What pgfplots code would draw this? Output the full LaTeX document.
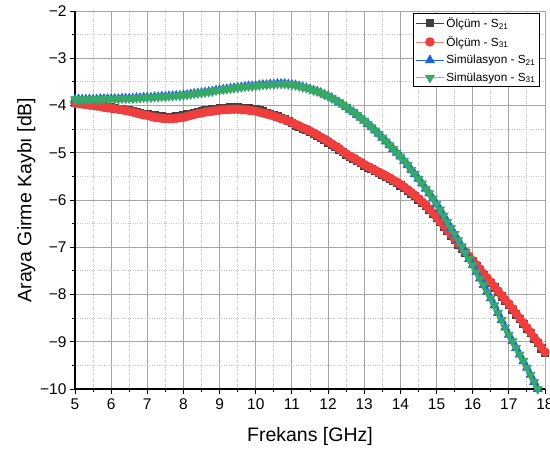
\documentclass[border=0pt]{standalone}
\usepackage{fontspec}
\setmainfont{Liberation Sans}
\usepackage{pgfplots}
\usepackage{pgfplotstable}
\pgfplotsset{compat=1.18}
\definecolor{cBlack}{RGB}{64,64,64}
\definecolor{cRed}{RGB}{238,62,62}
\definecolor{cRedL}{RGB}{245,130,130}
\definecolor{cBlue}{RGB}{30,100,230}
\definecolor{cGreen}{RGB}{56,168,104}
\definecolor{cGreenL}{RGB}{120,200,150}
\definecolor{cGrid}{RGB}{165,165,165}
\definecolor{cMinor}{RGB}{200,200,200}
\pgfplotstableread{
x s21m s31m sim
5.0 -3.94 -3.95 -3.87
5.1 -3.95 -3.96 -3.87
5.2 -3.96 -3.97 -3.87
5.3 -3.97 -3.98 -3.87
5.4 -3.98 -3.99 -3.87
5.5 -3.99 -4.00 -3.87
5.6 -4.00 -4.01 -3.87
5.7 -4.01 -4.02 -3.86
5.8 -4.02 -4.04 -3.86
5.9 -4.03 -4.05 -3.86
6.0 -4.04 -4.06 -3.86
6.1 -4.06 -4.07 -3.86
6.2 -4.07 -4.08 -3.86
6.3 -4.08 -4.09 -3.85
6.4 -4.09 -4.11 -3.85
6.5 -4.10 -4.12 -3.85
6.6 -4.11 -4.14 -3.85
6.7 -4.13 -4.16 -3.84
6.8 -4.15 -4.18 -3.84
6.9 -4.17 -4.20 -3.83
7.0 -4.18 -4.21 -3.83
7.1 -4.20 -4.23 -3.83
7.2 -4.21 -4.25 -3.82
7.3 -4.22 -4.26 -3.82
7.4 -4.23 -4.27 -3.81
7.5 -4.24 -4.28 -3.81
7.6 -4.24 -4.28 -3.80
7.7 -4.24 -4.28 -3.80
7.8 -4.23 -4.27 -3.79
7.9 -4.22 -4.26 -3.79
8.0 -4.21 -4.25 -3.78
8.1 -4.19 -4.23 -3.77
8.2 -4.17 -4.21 -3.76
8.3 -4.15 -4.19 -3.75
8.4 -4.13 -4.17 -3.74
8.5 -4.12 -4.16 -3.73
8.6 -4.10 -4.14 -3.72
8.7 -4.09 -4.13 -3.71
8.8 -4.08 -4.12 -3.70
8.9 -4.07 -4.11 -3.68
9.0 -4.06 -4.10 -3.67
9.1 -4.05 -4.09 -3.66
9.2 -4.05 -4.09 -3.65
9.3 -4.04 -4.08 -3.64
9.4 -4.04 -4.08 -3.63
9.5 -4.04 -4.08 -3.62
9.6 -4.05 -4.09 -3.61
9.7 -4.05 -4.09 -3.60
9.8 -4.06 -4.10 -3.59
9.9 -4.07 -4.11 -3.59
10.0 -4.08 -4.12 -3.58
10.1 -4.10 -4.14 -3.57
10.2 -4.12 -4.16 -3.56
10.3 -4.15 -4.18 -3.56
10.4 -4.17 -4.20 -3.55
10.5 -4.20 -4.22 -3.55
10.6 -4.23 -4.25 -3.54
10.7 -4.26 -4.28 -3.54
10.8 -4.29 -4.30 -3.54
10.9 -4.32 -4.33 -3.55
11.0 -4.36 -4.36 -3.56
11.1 -4.42 -4.40 -3.57
11.2 -4.45 -4.43 -3.59
11.3 -4.49 -4.47 -3.61
11.4 -4.52 -4.50 -3.63
11.5 -4.56 -4.54 -3.65
11.6 -4.60 -4.58 -3.68
11.7 -4.64 -4.62 -3.70
11.8 -4.69 -4.67 -3.73
11.9 -4.73 -4.71 -3.77
12.0 -4.78 -4.76 -3.80
12.1 -4.83 -4.81 -3.84
12.2 -4.88 -4.86 -3.89
12.3 -4.93 -4.91 -3.93
12.4 -4.99 -4.97 -3.98
12.5 -5.04 -5.02 -4.03
12.6 -5.09 -5.07 -4.09
12.7 -5.13 -5.11 -4.14
12.8 -5.18 -5.16 -4.20
12.9 -5.22 -5.20 -4.26
13.0 -5.27 -5.25 -4.32
13.1 -5.31 -5.29 -4.39
13.2 -5.35 -5.33 -4.46
13.3 -5.39 -5.37 -4.53
13.4 -5.43 -5.41 -4.60
13.5 -5.47 -5.45 -4.68
13.6 -5.51 -5.49 -4.76
13.7 -5.55 -5.53 -4.84
13.8 -5.60 -5.58 -4.92
13.9 -5.64 -5.62 -5.00
14.0 -5.69 -5.67 -5.08
14.1 -5.74 -5.72 -5.17
14.2 -5.80 -5.78 -5.26
14.3 -5.86 -5.84 -5.36
14.4 -5.92 -5.90 -5.45
14.5 -5.99 -5.97 -5.55
14.6 -6.06 -6.04 -5.65
14.7 -6.13 -6.11 -5.76
14.8 -6.21 -6.19 -5.86
14.9 -6.29 -6.27 -5.97
15.0 -6.38 -6.36 -6.08
15.1 -6.47 -6.45 -6.20
15.2 -6.56 -6.54 -6.33
15.3 -6.66 -6.64 -6.46
15.4 -6.75 -6.73 -6.59
15.5 -6.85 -6.83 -6.72
15.6 -6.94 -6.92 -6.85
15.7 -7.03 -7.01 -6.98
15.8 -7.12 -7.10 -7.12
15.9 -7.21 -7.19 -7.25
16.0 -7.30 -7.28 -7.38
16.1 -7.39 -7.37 -7.52
16.2 -7.48 -7.46 -7.66
16.3 -7.58 -7.56 -7.80
16.4 -7.67 -7.65 -7.94
16.5 -7.76 -7.74 -8.08
16.6 -7.85 -7.83 -8.23
16.7 -7.94 -7.92 -8.39
16.8 -8.04 -8.02 -8.54
16.9 -8.13 -8.11 -8.70
17.0 -8.22 -8.20 -8.85
17.1 -8.32 -8.30 -8.99
17.2 -8.42 -8.40 -9.13
17.3 -8.52 -8.50 -9.27
17.4 -8.62 -8.60 -9.41
17.5 -8.72 -8.70 -9.55
17.6 -8.82 -8.80 -9.70
17.7 -8.93 -8.91 -9.85
17.8 -9.03 -9.01 -10.00
17.9 -9.14 -9.12 -10.15
18.0 -9.24 -9.22 -10.30
}\datatable
\begin{document}
\begin{tikzpicture}
\begin{axis}[
  name=ax, at={(0pt,0pt)}, anchor=south west,
  scale only axis, width=470pt, height=378pt,
  xmin=5, xmax=18, ymin=-10, ymax=-2,
  axis x line*=bottom, axis y line*=left,
  axis line style={black, line width=1.1pt},
  xtick={5,6,...,18},
  ytick={-10,-9,...,-2},
  yticklabels={−10,−9,−8,−7,−6,−5,−4,−3,−2},
  minor x tick num=1, minor y tick num=1,
  tick align=outside,
  major tick length=5pt, minor tick length=3pt,
  tick style={black, line width=0.9pt},
  grid=both,
  major grid style={cGrid, line width=0.9pt},
  minor grid style={cMinor, dotted, line width=0.9pt},
  ticklabel style={font=\fontsize{15.5}{17}\selectfont},
  xticklabel style={yshift=-1pt},
  /pgf/number format/assume math mode=true,
  xlabel={Frekans [GHz]}, ylabel={Araya Girme Kaybı [dB]},
  label style={font=\fontsize{19.5}{22}\selectfont},
  xlabel style={yshift=-11pt},
  ylabel style={yshift=-2pt},
  legend style={at={(0.989,0.995)}, anchor=north east, draw=black, line width=0.9pt,
    font=\fontsize{11.8}{13}\selectfont, row sep=3.5pt, inner sep=2pt, fill=white,
    cells={anchor=west}},
  legend image code/.code={\draw[mark repeat=2,mark phase=2] plot coordinates {(0pt,0pt) (14pt,0pt) (28pt,0pt)};},
  clip=true,
]
\addplot[cBlack, line width=0.8pt, mark=square*, mark size=3.6pt, mark options={fill=cBlack, draw=cBlack, solid}] table[x=x, y=s21m] {\datatable};
\addlegendentry{Ölçüm - S\textsubscript{21}}
\addplot[cRedL, line width=0.8pt, mark=*, mark size=4.3pt, mark options={fill=cRed, draw=cRed, solid}] table[x=x, y=s31m] {\datatable};
\addlegendentry{Ölçüm - S\textsubscript{31}}
\addplot[cBlue, line width=0.8pt, mark=triangle*, mark size=5pt, mark options={fill=cBlue, draw=cBlue, solid}] table[x=x, y=sim] {\datatable};
\addlegendentry{Simülasyon - S\textsubscript{21}}
\addplot[cGreenL, line width=0.8pt, mark=triangle*, mark size=5pt, mark options={fill=cGreen, draw=cGreen, solid, rotate=180}] table[x=x, y=sim] {\datatable};
\addlegendentry{Simülasyon - S\textsubscript{31}}
\end{axis}
\pgfresetboundingbox
\path[use as bounding box] (-75pt,-65pt) rectangle (475pt,389pt);
\end{tikzpicture}
\end{document}
